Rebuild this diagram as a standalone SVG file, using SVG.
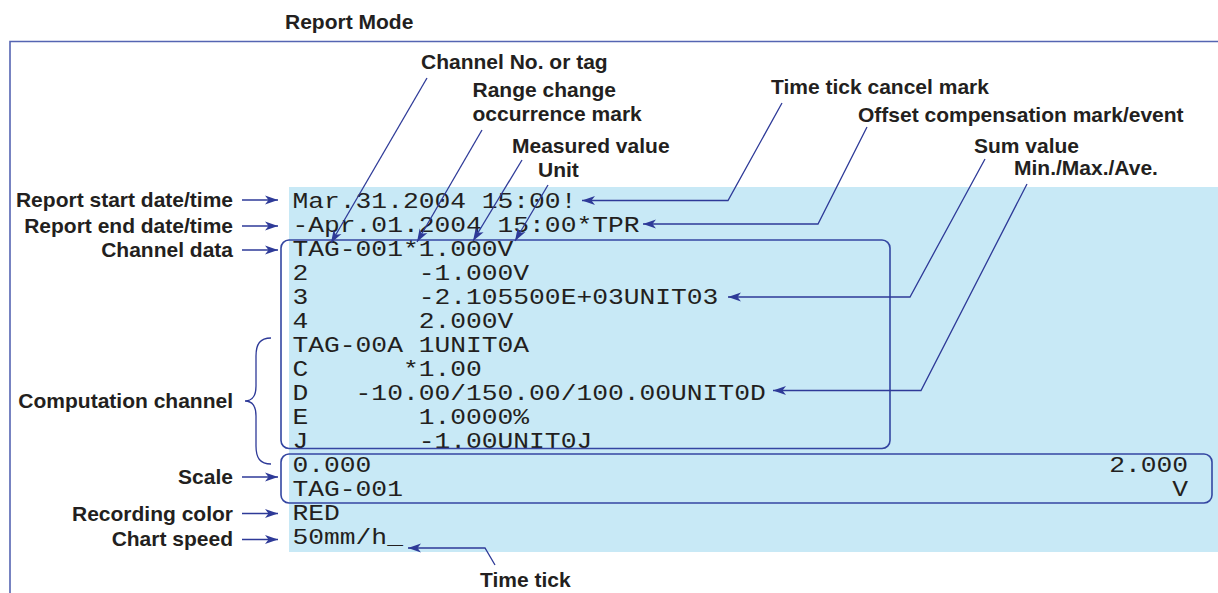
<svg xmlns="http://www.w3.org/2000/svg" width="1218" height="593" viewBox="0 0 1218 593">
<style>
.lb{font-family:"Liberation Sans",Arial,sans-serif;font-weight:bold;font-size:21px;fill:#231f20}
.m{font-family:"Liberation Mono","Courier New",monospace;font-size:22px;fill:#231f20}
.c{fill:none;stroke:#2e3a98;stroke-width:1.3}
.bx{fill:none;stroke:#3446a2;stroke-width:1.6}
</style>
<defs>
<marker id="ah" markerUnits="userSpaceOnUse" markerWidth="14" markerHeight="10" viewBox="0 -5 14 10" refX="13" refY="0" orient="auto">
<path d="M13,0 L0,-4.5 L3.5,0 L0,4.5 Z" fill="#2e3a98"/>
</marker>
</defs>
<rect width="1218" height="593" fill="#ffffff"/>
<g id="frame">
<path d="M10,593 L10,41.5 L1218,41.5" fill="none" stroke="#5565b2" stroke-width="1.6"/>
<text class="lb" x="285" y="29">Report Mode</text>
</g>
<g id="report-output">
<rect x="289" y="187" width="929" height="365" fill="#c8e9f6"/>
<g class="m" transform="translate(292.5 0) scale(1.195 1)">
<text x="0" y="208">Mar.31.2004 15:00!</text>
<text x="0" y="232">-Apr.01.2004 15:00*TPR</text>
<text x="0" y="256">TAG-001*1.000V</text>
<text x="0" y="280">2</text><text x="105.6" y="280">-1.000V</text>
<text x="0" y="304">3</text><text x="105.6" y="304">-2.105500E+03UNIT03</text>
<text x="0" y="328">4</text><text x="105.6" y="328">2.000V</text>
<text x="0" y="352">TAG-00A 1UNIT0A</text>
<text x="0" y="376">C</text><text x="92.4" y="376">*1.00</text>
<text x="0" y="400">D</text><text x="52.8" y="400">-10.00/150.00/100.00UNIT0D</text>
<text x="0" y="424">E</text><text x="105.6" y="424">1.0000%</text>
<text x="0" y="448">J</text><text x="105.6" y="448">-1.00UNIT0J</text>
<text x="0" y="472">0.000</text><text x="749.4" y="472" text-anchor="end">2.000</text>
<text x="0" y="496">TAG-001</text><text x="749.4" y="496" text-anchor="end">V</text>
<text x="0" y="520">RED</text>
<text x="0" y="544">50mm/h_</text>
</g>
</g>
<g id="channel-data-box"><rect class="bx" x="281" y="240" width="609" height="208.5" rx="8"/></g>
<g id="scale-box"><rect class="bx" x="281" y="454" width="931" height="49" rx="8"/></g>
<g id="label-report-start"><text class="lb" x="233" y="207" text-anchor="end">Report start date/time</text></g>
<g id="label-report-end"><text class="lb" x="233" y="233" text-anchor="end">Report end date/time</text></g>
<g id="label-channel-data"><text class="lb" x="233" y="257" text-anchor="end">Channel data</text></g>
<g id="label-computation"><text class="lb" x="233" y="408" text-anchor="end">Computation channel</text></g>
<g id="label-scale"><text class="lb" x="233" y="484" text-anchor="end">Scale</text></g>
<g id="label-recording-color"><text class="lb" x="233" y="521" text-anchor="end">Recording color</text></g>
<g id="label-chart-speed"><text class="lb" x="233" y="546" text-anchor="end">Chart speed</text></g>
<g id="label-channel-no"><text class="lb" x="421" y="69">Channel No. or tag</text></g>
<g id="label-range-change"><text class="lb" x="472.5" y="97">Range change</text><text class="lb" x="472.5" y="121">occurrence mark</text></g>
<g id="label-measured"><text class="lb" x="512" y="153">Measured value</text></g>
<g id="label-unit"><text class="lb" x="538" y="177">Unit</text></g>
<g id="label-time-tick-cancel"><text class="lb" x="771" y="94">Time tick cancel mark</text></g>
<g id="label-offset"><text class="lb" x="858" y="122">Offset compensation mark/event</text></g>
<g id="label-sum"><text class="lb" x="974" y="153">Sum value</text></g>
<g id="label-minmax"><text class="lb" x="1014" y="175">Min./Max./Ave.</text></g>
<g id="label-time-tick"><text class="lb" x="480" y="587">Time tick</text></g>
<g id="connectors">
<path class="c" d="M242,200 L278,200" marker-end="url(#ah)"/>
<path class="c" d="M242,226 L278,226" marker-end="url(#ah)"/>
<path class="c" d="M242,250 L278,250" marker-end="url(#ah)"/>
<path class="c" d="M242,477 L278,477" marker-end="url(#ah)"/>
<path class="c" d="M242,513.5 L278,513.5" marker-end="url(#ah)"/>
<path class="c" d="M242,539.5 L278,539.5" marker-end="url(#ah)"/>
<path class="c" d="M271,338 C260,338 256,344 256,356 L256,386 C256,396 252,401 245,401 C252,401 256,406 256,416 L256,446 C256,458 260,464 271,464"/>
<path class="c" d="M427,78 L331,243" marker-end="url(#ah)"/>
<path class="c" d="M482,130 L417,242" marker-end="url(#ah)"/>
<path class="c" d="M522,160 L473,241" marker-end="url(#ah)"/>
<path class="c" d="M548,185 L515,241" marker-end="url(#ah)"/>
<path class="c" d="M782,103 L728,200.5 L582,200.5" marker-end="url(#ah)"/>
<path class="c" d="M867,127 L818,224 L643,224" marker-end="url(#ah)"/>
<path class="c" d="M985,159 L910,297 L728,297" marker-end="url(#ah)"/>
<path class="c" d="M1027,184 L921,390.5 L773,390.5" marker-end="url(#ah)"/>
<path class="c" d="M495,565 L485,548 L408,548" marker-end="url(#ah)"/>
</g>
</svg>
